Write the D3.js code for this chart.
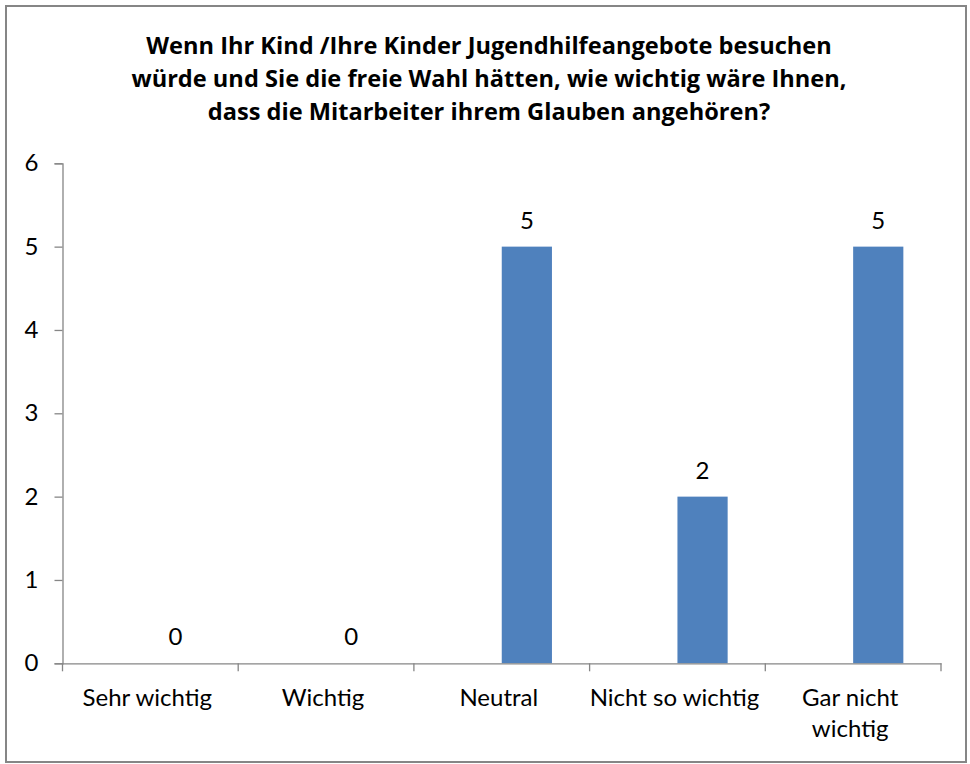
<!DOCTYPE html>
<html><head><meta charset="utf-8">
<script src="https://cdn.jsdelivr.net/npm/d3@7"></script>
<style>
html,body{margin:0;padding:0;background:#fff;}
svg{display:block;}
text{font-family:Lato,"Open Sans",sans-serif;fill:#000;}
</style></head>
<body>
<svg id="chart" width="970" height="764"></svg>
<script>
const titleLines = ["Wenn Ihr Kind /Ihre Kinder Jugendhilfeangebote besuchen",
  "würde und Sie die freie Wahl hätten, wie wichtig wäre Ihnen,",
  "dass die Mitarbeiter ihrem Glauben angehören?"];
const categories = ["Sehr wichtig","Wichtig","Neutral","Nicht so wichtig","Gar nicht wichtig"];
const categoryLabelLines = [["Sehr wichtig"],["Wichtig"],["Neutral"],["Nicht so wichtig"],["Gar nicht","wichtig"]];
const values = [0,0,5,2,5];
const yTicks = [0,1,2,3,4,5,6];

const svg = d3.select("#chart");
const W = 970, H = 764;
const plot = {left:62.5, right:941, top:163.3, bottom:663.3};

svg.append("rect").attr("x",6).attr("y",6).attr("width",960).attr("height",756)
  .attr("fill","#fff").attr("stroke","#868686").attr("stroke-width",2);

const title = svg.append("text").attr("text-anchor","middle")
  .attr("font-weight","bold").attr("font-size",23.6).style("font-family","'Open Sans'");
titleLines.forEach((l,i)=>title.append("tspan").attr("x",489).attr("y",53.5+i*33).text(l));

const x = d3.scaleBand().domain(categories).range([plot.left,plot.right]).padding(0);
const y = d3.scaleLinear().domain([0,6]).range([plot.bottom,plot.top]);

// y axis
const yAxis = svg.append("g").attr("transform",`translate(${plot.left},0)`)
  .call(d3.axisLeft(y).tickValues(yTicks).tickSize(8).tickPadding(16).tickFormat(d3.format("d")));
yAxis.select(".domain").attr("stroke","#868686").attr("stroke-width",1.3);
yAxis.selectAll(".tick line").attr("stroke","#868686").attr("stroke-width",1.3);
yAxis.selectAll(".tick text").attr("font-size",24).attr("font-family","Lato").attr("fill","#000");

// bars
const bw = x.bandwidth()/3.5;
svg.append("g").selectAll("rect").data(values).join("rect")
  .attr("x",(d,i)=>x(categories[i])+x.bandwidth()/2)
  .attr("y",d=>y(d))
  .attr("width",bw)
  .attr("height",d=>y(0)-y(d))
  .attr("fill","#4F81BD");

// data labels
svg.append("g").selectAll("text").data(values).join("text")
  .attr("x",(d,i)=>x(categories[i])+x.bandwidth()/2+bw/2)
  .attr("y",d=>y(d)-18)
  .attr("text-anchor","middle").attr("font-size",24)
  .text(d=>d);

// x axis
const xAxis = svg.append("g").attr("transform",`translate(0,${plot.bottom})`)
  .call(d3.axisBottom(x).tickSize(0).tickFormat(""));
xAxis.select(".domain").attr("stroke","#868686").attr("stroke-width",1.3);
// category boundary ticks
const bounds = categories.map(c=>x(c)).concat([plot.right]);
svg.append("g").selectAll("line").data(bounds).join("line")
  .attr("x1",d=>d).attr("x2",d=>d).attr("y1",plot.bottom).attr("y2",plot.bottom+8)
  .attr("stroke","#868686").attr("stroke-width",1.3);

// category labels
const cl = svg.append("g");
categories.forEach((c,i)=>{
  const t = cl.append("text").attr("text-anchor","middle").attr("font-size",24);
  categoryLabelLines[i].forEach((l,j)=>t.append("tspan")
    .attr("x",x(c)+x.bandwidth()/2-3).attr("y",706+j*31).text(l));
});
</script>
</body></html>
